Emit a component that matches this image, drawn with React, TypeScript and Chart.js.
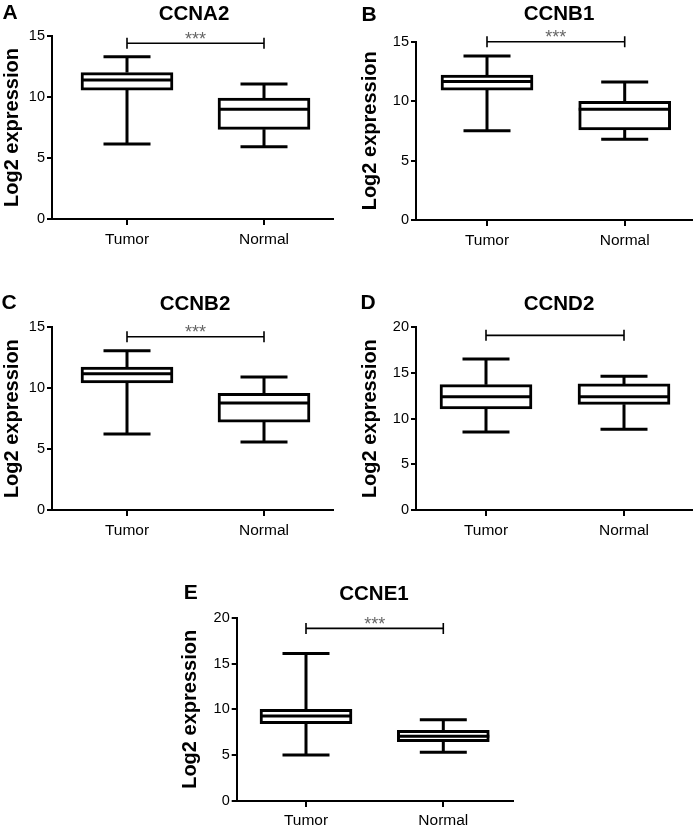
import React, { useEffect, useRef } from "react";
import { Chart, registerables } from "chart.js";

Chart.register(...registerables);

// ---------- data ----------
const categories = ["Tumor", "Normal"];
const geneTitles = ["CCNA2", "CCNB1", "CCNB2", "CCND2", "CCNE1"];
const panelLetters = ["A", "B", "C", "D", "E"];
const yAxisTitle = "Log2 expression";
const yMaxValues = [15, 15, 15, 20, 20];
const yStep = 5;

const tumorMin = [6.15, 7.51, 6.24, 8.54, 5.02];
const tumorQ1 = [10.57, 10.93, 10.43, 11.06, 8.43];
const tumorMedian = [11.4, 11.66, 11.19, 12.41, 9.27];
const tumorQ3 = [12.0, 12.2, 11.74, 13.72, 10.0];
const tumorMax = [13.3, 13.8, 13.08, 16.54, 16.1];

const normalMin = [5.93, 6.79, 5.58, 8.83, 5.31];
const normalQ1 = [7.35, 7.57, 7.22, 11.57, 6.47];
const normalMedian = [9.0, 9.31, 8.78, 12.41, 7.06];
const normalQ3 = [9.92, 9.98, 9.58, 13.8, 7.71];
const normalMax = [11.07, 11.6, 10.92, 14.64, 8.87];

const bracketValue = [14.4, 15.0, 14.23, 19.12, 18.83];
const significance = ["***", "***", "***", "", "***"];

// ---------- layout (positions / sizes only) ----------
type Geo = {
  left: number; top: number; w: number; h: number;
  area: [number, number, number, number];
  xs: [number, number];
  yTitlePad: number;
  xTickPad: number;
  letterPos: [number, number];
  titlePos: [number, number];
};

const geometry: Geo[] = [
  { left: 0, top: 0, w: 346, h: 262, area: [52, 36, 333, 219], xs: [127, 264], yTitlePad: 0, xTickPad: 5, letterPos: [10, 10.7], titlePos: [194, 13] },
  { left: 346, top: 0, w: 347, h: 262, area: [70, 41.7, 346, 220], xs: [141, 278.7], yTitlePad: 12.5, xTickPad: 5, letterPos: [369, 12.5], titlePos: [559, 13.3] },
  { left: 0, top: 270, w: 346, h: 275, area: [52, 57.3, 333, 240], xs: [127, 264], yTitlePad: 0, xTickPad: 5, letterPos: [9.2, 301], titlePos: [195, 302.5] },
  { left: 346, top: 270, w: 347, h: 275, area: [70, 57.3, 346, 240], xs: [140, 278], yTitlePad: 12.5, xTickPad: 5, letterPos: [368, 301], titlePos: [559, 302.5] },
  { left: 170, top: 545, w: 346, h: 281, area: [66.7, 72.7, 343, 256], xs: [136, 273.3], yTitlePad: 8.8, xTickPad: 4, letterPos: [190.8, 591], titlePos: [374, 593.3] },
];

const FONT = "'Liberation Sans', Arial, Helvetica, sans-serif";
const BOX_WIDTH = 92;
const CAP_WIDTH = 47;
const LINE_W = 3;

function makeBoxPlugin(i: number) {
  return {
    id: "boxWhiskers" + i,
    afterDatasetsDraw(chart: any) {
      const ctx = chart.ctx as CanvasRenderingContext2D;
      const xs = chart.scales.x;
      const ys = chart.scales.y;
      const stats = [
        [tumorMin[i], tumorQ1[i], tumorMedian[i], tumorQ3[i], tumorMax[i]],
        [normalMin[i], normalQ1[i], normalMedian[i], normalQ3[i], normalMax[i]],
      ];
      ctx.save();
      ctx.strokeStyle = "#000";
      ctx.lineCap = "butt";
      ctx.lineWidth = LINE_W;
      stats.forEach((s, k) => {
        const cx = xs.getPixelForValue(k + 1);
        const [mn, q1, md, q3, mx] = s.map((v) => ys.getPixelForValue(v));
        ctx.beginPath();
        ctx.moveTo(cx, q3);
        ctx.lineTo(cx, mx);
        ctx.moveTo(cx - CAP_WIDTH / 2, mx);
        ctx.lineTo(cx + CAP_WIDTH / 2, mx);
        ctx.moveTo(cx, q1);
        ctx.lineTo(cx, mn);
        ctx.moveTo(cx - CAP_WIDTH / 2, mn);
        ctx.lineTo(cx + CAP_WIDTH / 2, mn);
        ctx.moveTo(cx - BOX_WIDTH / 2, md);
        ctx.lineTo(cx + BOX_WIDTH / 2, md);
        ctx.stroke();
      });
      const x1 = xs.getPixelForValue(1);
      const x2 = xs.getPixelForValue(2);
      const by = ys.getPixelForValue(bracketValue[i]);
      ctx.lineWidth = 1.6;
      ctx.beginPath();
      ctx.moveTo(x1, by);
      ctx.lineTo(x2, by);
      ctx.moveTo(x1, by - 5.5);
      ctx.lineTo(x1, by + 5.5);
      ctx.moveTo(x2, by - 5.5);
      ctx.lineTo(x2, by + 5.5);
      ctx.stroke();
      if (significance[i]) {
        ctx.fillStyle = "#666";
        ctx.font = `18px ${FONT}`;
        ctx.textAlign = "center";
        ctx.textBaseline = "alphabetic";
        ctx.fillText(significance[i], (x1 + x2) / 2, by + 1.5);
      }
      ctx.restore();
    },
  };
}

function Panel({ i }: { i: number }) {
  const ref = useRef<HTMLCanvasElement | null>(null);
  const g = geometry[i];
  useEffect(() => {
    if (!ref.current) return;
    const [aL, aT, aR, aB] = g.area;
    const unit = g.xs[1] - g.xs[0];
    const xMin = 1 - (g.xs[0] - aL) / unit;
    const xMax = 2 + (aR - g.xs[1]) / unit;
    const chart = new Chart(ref.current, {
      type: "bar",
      data: {
        datasets: [
          {
            data: [
              { x: 1, y: [tumorQ1[i], tumorQ3[i]] },
              { x: 2, y: [normalQ1[i], normalQ3[i]] },
            ] as any,
            backgroundColor: "#fff",
            borderColor: "#000",
            borderWidth: LINE_W,
            borderSkipped: false,
            barThickness: BOX_WIDTH,
          },
        ],
      },
      options: {
        animation: false,
        responsive: false,
        devicePixelRatio: 1,
        events: [],
        layout: { padding: { left: 0, top: aT, right: g.w - aR, bottom: 0 } },
        plugins: { legend: { display: false }, tooltip: { enabled: false }, title: { display: false } },
        scales: {
          x: {
            type: "linear",
            min: xMin,
            max: xMax,
            offset: false,
            grid: { display: true, offset: false, drawOnChartArea: false, drawTicks: true, tickLength: 6, color: "#000", lineWidth: 2 },
            border: { display: true, color: "#000", width: 2 },
            ticks: {
              color: "#000",
              font: { family: FONT, size: 15.5 },
              padding: g.xTickPad,
              maxRotation: 0,
              autoSkip: false,
              callback: (v: any) => categories[Number(v) - 1] ?? "",
            },
            afterBuildTicks: (s: any) => {
              s.ticks = [{ value: 1 }, { value: 2 }];
            },
            afterFit: (s: any) => {
              s.height = g.h - aB;
            },
          },
          y: {
            type: "linear",
            min: 0,
            max: yMaxValues[i],
            grid: { display: true, drawOnChartArea: false, drawTicks: true, tickLength: 5, color: "#000", lineWidth: 2 },
            border: { display: true, color: "#000", width: 2 },
            ticks: { stepSize: yStep, color: "#000", font: { family: FONT, size: 14.5 }, padding: 2 },
            title: {
              display: true,
              text: yAxisTitle,
              color: "#000",
              font: { family: FONT, size: 20, weight: "bold" },
              padding: { top: g.yTitlePad, bottom: 0 },
            },
            afterFit: (s: any) => {
              s.width = aL;
            },
          },
        },
      } as any,
      plugins: [makeBoxPlugin(i)],
    });
    return () => chart.destroy();
  }, [i]);
  return (
    <canvas
      ref={ref}
      width={g.w}
      height={g.h}
      style={{ position: "absolute", left: g.left, top: g.top, width: g.w, height: g.h }}
    />
  );
}

function Label({ text, x, y, size }: { text: string; x: number; y: number; size: number }) {
  return (
    <div
      style={{
        position: "absolute",
        left: x,
        top: y,
        transform: "translate(-50%, -50%)",
        fontFamily: FONT,
        fontWeight: "bold",
        fontSize: size,
        lineHeight: 1,
        whiteSpace: "nowrap",
        color: "#000",
      }}
    >
      {text}
    </div>
  );
}

export default function App() {
  return (
    <div style={{ position: "absolute", left: 0, top: 0, width: 693, height: 826, background: "#fff", overflow: "hidden" }}>
      {geometry.map((g, i) => (
        <React.Fragment key={i}>
          <Panel i={i} />
          <Label text={panelLetters[i]} x={g.letterPos[0]} y={g.letterPos[1]} size={21} />
          <Label text={geneTitles[i]} x={g.titlePos[0]} y={g.titlePos[1]} size={20.5} />
        </React.Fragment>
      ))}
    </div>
  );
}
